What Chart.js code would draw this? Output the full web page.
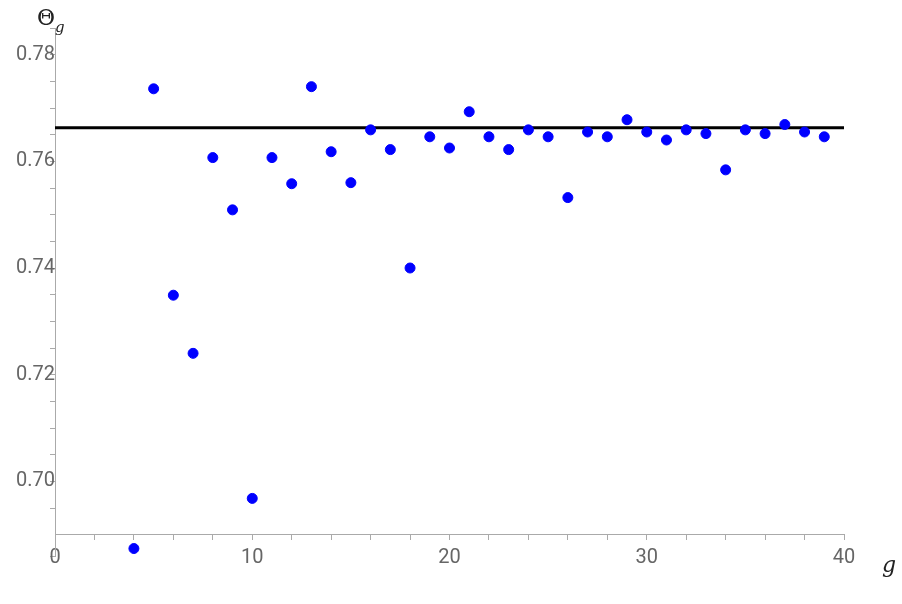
<!DOCTYPE html>
<html><head><meta charset="utf-8">
<script src="https://cdn.jsdelivr.net/npm/chart.js@4/dist/chart.umd.min.js"></script>
<style>body{margin:0;background:#fff}#wrap{width:902px;height:604px}</style>
</head><body><div id="wrap"><canvas id="c"></canvas></div>
<script>
const gValues = [4,5,6,7,8,9,10,11,12,13,14,15,16,17,18,19,20,21,22,23,24,25,26,27,28,29,30,31,32,33,34,35,36,37,38,39];
const thetaValues = [0.6874,0.7736,0.7349,0.7240,0.7607,0.7509,0.6968,0.7607,0.7558,0.7740,0.7618,0.7560,0.7659,0.7622,0.7400,0.7646,0.7625,0.7693,0.7646,0.7622,0.7659,0.7646,0.7532,0.7655,0.7646,0.7678,0.7655,0.7640,0.7659,0.7652,0.7584,0.7659,0.7652,0.7669,0.7655,0.7646];
const limitValue = 0.7663;
const limitRange = [0, 40];

const labelsPlugin = {
  id: "axisLabels",
  afterDraw(chart) {
    const ctx = chart.ctx;
    ctx.save();
    ctx.fillStyle = "#222";
    ctx.font = "italic 22px 'DejaVu Serif', serif";
    ctx.fillText("g", 882, 572);
    ctx.font = "22px 'DejaVu Serif', serif";
    ctx.fillText("Θ", 37, 25);
    ctx.font = "italic 15px 'DejaVu Serif', serif";
    ctx.fillText("g", 55, 32);
    ctx.restore();
  }
};

new Chart(document.getElementById("c"), {
  type: "scatter",
  data: {
    datasets: [
      {
        data: gValues.map((g, i) => ({ x: g, y: thetaValues[i] })),
        backgroundColor: "#0000ff", borderColor: "#0000ff",
        pointRadius: 5, clip: false
      },
      {
        type: "line",
        data: limitRange.map(x => ({ x: x, y: limitValue })),
        borderColor: "#000", borderWidth: 3, pointRadius: 0
      }
    ]
  },
  options: {
    responsive: true, maintainAspectRatio: false, animation: false,
    layout: { padding: { left: 55, right: 58, top: 28, bottom: 48 } },
    plugins: { legend: { display: false }, tooltip: { enabled: false } },
    scales: {
      x: {
        type: "linear", min: 0, max: 40, position: { y: 0.69 },
        border: { color: "#aaa" },
        grid: { drawOnChartArea: false, color: "#aaa", tickLength: 5 },
        ticks: {
          stepSize: 2, autoSkip: false, maxRotation: 0, color: "#666", padding: 6,
          font: { size: 20, family: "Roboto" },
          callback: v => (v % 10 === 0 ? v : "")
        }
      },
      y: {
        type: "linear", min: 0.686, max: 0.785, position: { x: 0 },
        border: { color: "#aaa" },
        grid: { drawOnChartArea: false, color: "#aaa", tickLength: 5 },
        ticks: {
          stepSize: 0.005, autoSkip: false, color: "#666", padding: 8,
          font: { size: 20, family: "Roboto" },
          callback: v => {
            const r = Math.round(v * 1000);
            return r % 20 === 0 && r >= 700 ? (r / 1000).toFixed(2) : "";
          }
        }
      }
    }
  },
  plugins: [labelsPlugin]
});
</script></body></html>
